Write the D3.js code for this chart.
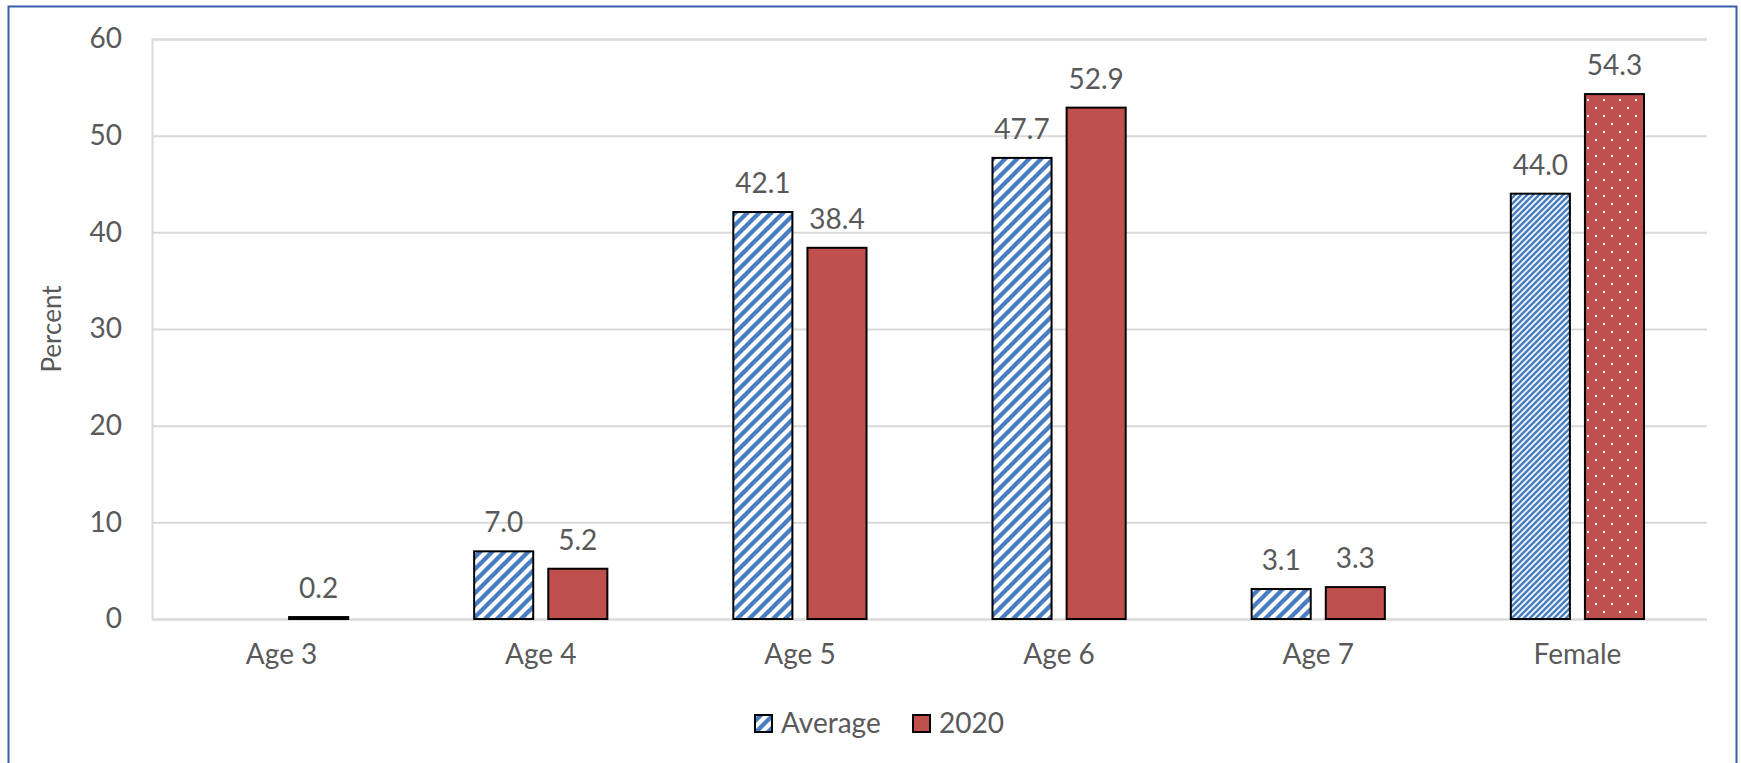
<!DOCTYPE html>
<html><head><meta charset="utf-8">
<script src="https://cdn.jsdelivr.net/npm/d3@7"></script>
<style>
html,body{margin:0;padding:0;background:#fff;}
svg{display:block;}
text{font-family:Lato, "Open Sans", sans-serif;fill:#595959;}
</style></head>
<body>
<script>
const categories = ["Age 3","Age 4","Age 5","Age 6","Age 7","Female"];
const seriesNames = ["Average","2020"];
const averageValues = [null, 7.0, 42.1, 47.7, 3.1, 44.0];
const values2020 = [0.2, 5.2, 38.4, 52.9, 3.3, 54.3];
const yTicks = [0,10,20,30,40,50,60];
const yTitle = "Percent";

const W = 1741, H = 763;
const M = {left:152, right:34, top:39, bottom:144};
const svg = d3.select("body").append("svg").attr("width",W).attr("height",H);

const defs = svg.append("defs");
const blue = "#4A7EC2", red = "#C0504D";
// wide upward diagonal
const pw = defs.append("pattern").attr("id","wideDiag").attr("patternUnits","userSpaceOnUse")
  .attr("width",12).attr("height",12);
pw.append("rect").attr("width",12).attr("height",12).attr("fill","#fff");
pw.append("path").attr("d","M-3,3 L3,-3 M0,12 L12,0 M9,15 L15,9").attr("stroke",blue).attr("stroke-width",4.4);
// dark (dense) upward diagonal
const pd = defs.append("pattern").attr("id","denseDiag").attr("patternUnits","userSpaceOnUse")
  .attr("width",6).attr("height",6);
pd.append("rect").attr("width",6).attr("height",6).attr("fill","#fff");
pd.append("path").attr("d","M-1.5,1.5 L1.5,-1.5 M0,6 L6,0 M4.5,7.5 L7.5,4.5").attr("stroke",blue).attr("stroke-width",2.6);
// dotted red
const pdot = defs.append("pattern").attr("id","dotRed").attr("patternUnits","userSpaceOnUse")
  .attr("width",16).attr("height",16);
pdot.append("rect").attr("width",16).attr("height",16).attr("fill",red);
pdot.append("rect").attr("x",3).attr("y",3).attr("width",2).attr("height",2).attr("fill","#fff");
pdot.append("rect").attr("x",11).attr("y",11).attr("width",2).attr("height",2).attr("fill","#fff");

// frame
svg.append("rect").attr("x",8.5).attr("y",6.5).attr("width",1728).attr("height",800)
  .attr("fill","none").attr("stroke","#3A5DA8").attr("stroke-width",2);

const x0 = d3.scaleBand().domain(categories).range([M.left, W-M.right]).paddingInner(0.486).paddingOuter(0.243);
const x1 = d3.scaleBand().domain(seriesNames).range([0, x0.bandwidth()]).paddingInner(0.203).paddingOuter(0);
const y = d3.scaleLinear().domain([0,60]).range([H-M.bottom, M.top]);

const FS = 28;
// gridlines
const yAxis = d3.axisLeft(y).tickValues(yTicks).tickSize(-(W-M.right-M.left)).tickPadding(30);
const gy = svg.append("g").attr("transform",`translate(${M.left},0)`).call(yAxis);
gy.select(".domain").attr("stroke","#D9D9D9").attr("stroke-width",2);
gy.selectAll(".tick line").attr("stroke","#D9D9D9").attr("stroke-width",2);
gy.selectAll(".tick text").attr("font-size",FS).attr("fill","#595959").attr("font-family","Lato, 'Open Sans', sans-serif");

// x axis labels
const xAxis = d3.axisBottom(x0).tickSize(0).tickPadding(25);
const gx = svg.append("g").attr("transform",`translate(0,${y(0)})`).call(xAxis);
gx.select(".domain").remove();
gx.selectAll(".tick text").attr("font-size",FS).attr("fill","#595959").attr("font-family","Lato, 'Open Sans', sans-serif");

// y title
svg.append("text").attr("transform",`translate(${61},${(y(0)+y(60))/2}) rotate(-90)`)
  .attr("text-anchor","middle").attr("font-size",26).text(yTitle);

const rows = [];
categories.forEach((c,i)=>{
  rows.push({cat:c, s:"Average", v:averageValues[i], fill: c==="Female" ? "url(#denseDiag)" : "url(#wideDiag)"});
  rows.push({cat:c, s:"2020", v:values2020[i], fill: c==="Female" ? "url(#dotRed)" : red});
});
const data = rows.filter(d=>d.v!=null);

svg.append("g").selectAll("rect").data(data).join("rect")
  .attr("x",d=>x0(d.cat)+x1(d.s)).attr("width",x1.bandwidth())
  .attr("y",d=>y(d.v)).attr("height",d=>y(0)-y(d.v))
  .attr("fill",d=>d.fill).attr("stroke","#000").attr("stroke-width",2);

svg.append("g").selectAll("text").data(data).join("text")
  .attr("x",d=>x0(d.cat)+x1(d.s)+x1.bandwidth()/2)
  .attr("y",d=>y(d.v)-19)
  .attr("text-anchor","middle").attr("font-size",FS).attr("fill","#404040")
  .text(d=>d.v.toFixed(1));

// legend
const lg = svg.append("g");
const legendItems = [{n:"Average", fill:"url(#wideDiag)", x:755},{n:"2020", fill:red, x:913}];
legendItems.forEach(it=>{
  lg.append("rect").attr("x",it.x).attr("y",715).attr("width",17).attr("height",17)
    .attr("fill",it.fill).attr("stroke","#000").attr("stroke-width",2);
  lg.append("text").attr("x",it.x+26).attr("y",733).attr("font-size",FS).text(it.n);
});
</script>
</body></html>
